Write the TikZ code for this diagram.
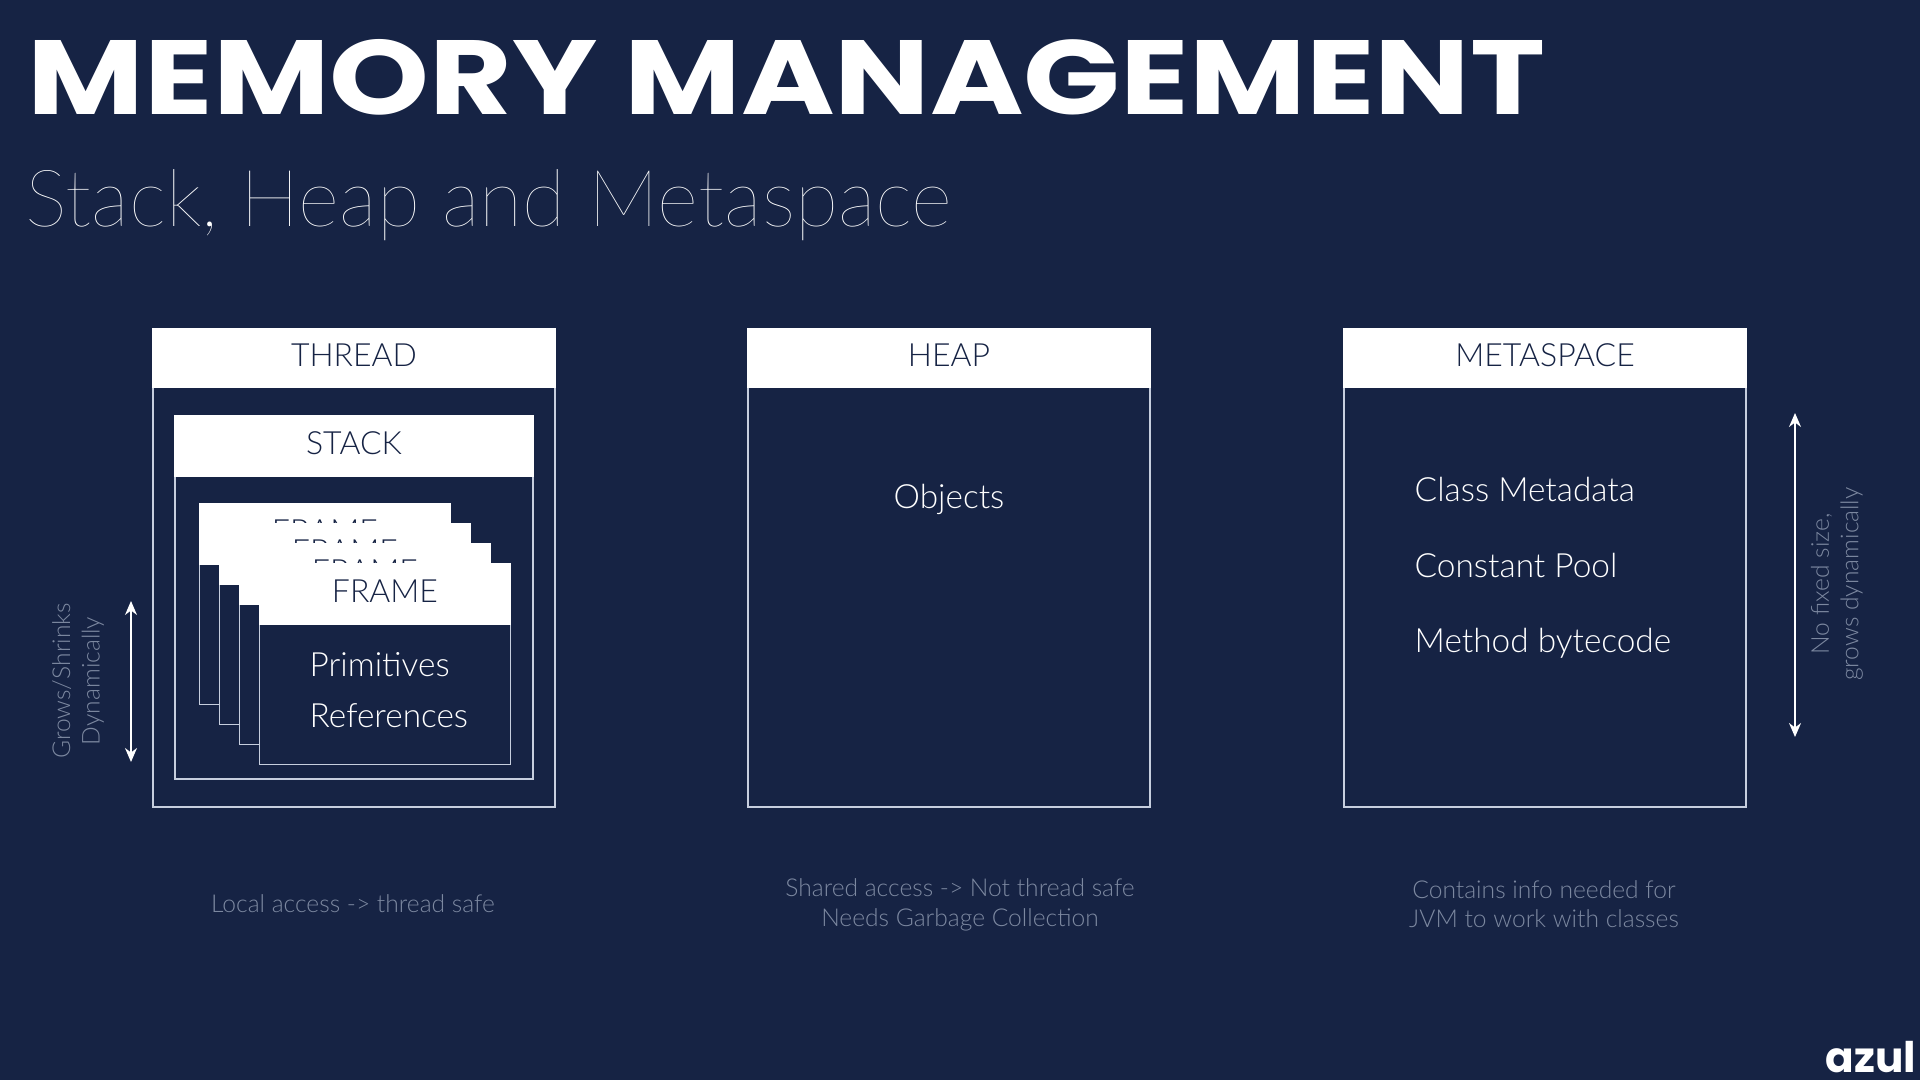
\documentclass[tikz,border=0pt]{standalone}
\usepackage{fontspec}
\usepackage{xcolor}
\usetikzlibrary{positioning,arrows.meta}
\setmainfont{Lato Light}
\newfontfamily\titlefont[FakeStretch=1.205]{Poppins Bold}
\newfontfamily\thinfont{Lato Thin}
\newfontfamily\logofont{Poppins Bold}
\definecolor{navy}{HTML}{162344}
\definecolor{edge}{HTML}{C6CEDE}
\definecolor{note}{HTML}{7C88A0}
\tikzset{
  body/.style={draw=edge, fill=navy, line width=0.35pt, inner sep=0pt, outer sep=0pt},
  head/.style={draw=white, fill=white, text=navy, line width=0.35pt, inner sep=0pt, outer sep=0pt, text depth=0.5mm, font=\fontsize{9.1}{11}\selectfont},
  item/.style={text=white, inner sep=0pt, font=\fontsize{9.5}{11}\selectfont},
  hint/.style={text=note, align=center, inner sep=0pt, font=\fontsize{7}{8.4}\selectfont},
  span/.style={{Stealth[length=1.4mm,width=1.2mm]}-{Stealth[length=1.4mm,width=1.2mm]}, white, line width=0.5pt},
}

\begin{document}
\begin{tikzpicture}
  \useasboundingbox (0,0) rectangle (19.2,-10.8);
  \fill[navy] (0,0) rectangle (19.2,-10.8);
  \node[text=white, anchor=base west, inner sep=0pt, font=\titlefont\fontsize{30}{36}\selectfont] (title) at (0.27,-1.15) {MEMORY MANAGEMENT};
  \node[text=white, anchor=base west, inner sep=0pt, font=\thinfont\fontsize{22.5}{28}\selectfont] (subtitle) at (0.25,-2.27) {Stack, Heap and Metaspace};
  % three columns
  \node[body, minimum width=4.02cm, minimum height=4.78cm] (thread) at (3.54,-5.68) {};
  \node[head, minimum width=4.02cm, minimum height=0.58cm] (threadhead) at (3.54,-3.58) {THREAD};
  \node[body, minimum width=4.02cm, minimum height=4.78cm] (heap) at (9.49,-5.68) {};
  \node[head, minimum width=4.02cm, minimum height=0.58cm] (heaphead) at (9.49,-3.58) {HEAP};
  \node[body, minimum width=4.02cm, minimum height=4.78cm] (meta) at (15.45,-5.68) {};
  \node[head, minimum width=4.02cm, minimum height=0.58cm] (metahead) at (15.45,-3.58) {METASPACE};
  % stack and frames
  \node[body, minimum width=3.58cm, minimum height=3.63cm] (stack) at (3.54,-5.975) {};
  \node[head, minimum width=3.58cm, minimum height=0.6cm] (stackhead) at (3.54,-4.46) {STACK};
  \node[body, minimum width=2.51cm, minimum height=2.01cm] (frameA) at (3.25,-6.04) {};
  \node[head, minimum width=2.51cm, minimum height=0.6cm] (headA) at (3.25,-5.34) {FRAME};
  \node[body, minimum width=2.51cm, minimum height=2.01cm] (frameB) at (3.45,-6.24) {};
  \node[head, minimum width=2.51cm, minimum height=0.6cm] (headB) at (3.45,-5.54) {FRAME};
  \node[body, minimum width=2.51cm, minimum height=2.01cm] (frameC) at (3.65,-6.44) {};
  \node[head, minimum width=2.51cm, minimum height=0.6cm] (headC) at (3.65,-5.74) {FRAME};
  \node[body, minimum width=2.51cm, minimum height=2.01cm] (frameD) at (3.85,-6.64) {};
  \node[head, minimum width=2.51cm, minimum height=0.6cm] (headD) at (3.85,-5.94) {FRAME};
  \node[item, anchor=west] (prim) at (3.09,-6.65) {Primitives};
  \node[item, anchor=west] (refs) at (3.09,-7.16) {References};
  % contents
  \node[item] (objects) at (9.49,-4.99) {Objects};
  \node[item, anchor=west] (classmeta) at (14.14,-4.89) {Class Metadata};
  \node[item, anchor=west] (pool) at (14.14,-5.65) {Constant Pool};
  \node[item, anchor=west] (bytecode) at (14.14,-6.43) {Method bytecode};
  % side notes
  \coordinate (growtop) at (1.31,-6.01);
  \coordinate (growbot) at (1.31,-7.62);
  \draw[span] (growtop) -- (growbot);
  \node[hint, rotate=90] (grownote) at (0.78,-6.81) {Grows/Shrinks\\Dynamically};
  \coordinate (sizetop) at (17.95,-4.13);
  \coordinate (sizebot) at (17.95,-7.37);
  \draw[span] (sizetop) -- (sizebot);
  \node[hint, rotate=90] (sizenote) at (18.37,-5.84) {No fixed size,\\grows dynamically};
  % captions
  \node[hint] (threadnote) at (3.53,-9.04) {Local access -> thread safe};
  \node[hint] (heapnote) at (9.60,-9.05) {Shared access -> Not thread safe\\Needs Garbage Collection};
  \node[hint] (metanote) at (15.44,-9.04) {Contains info needed for\\JVM to work with classes};
  \node[text=white, anchor=base east, inner sep=0pt, font=\logofont\fontsize{12}{14}\selectfont] (logo) at (19.17,-10.72) {azul};
\end{tikzpicture}
\end{document}
